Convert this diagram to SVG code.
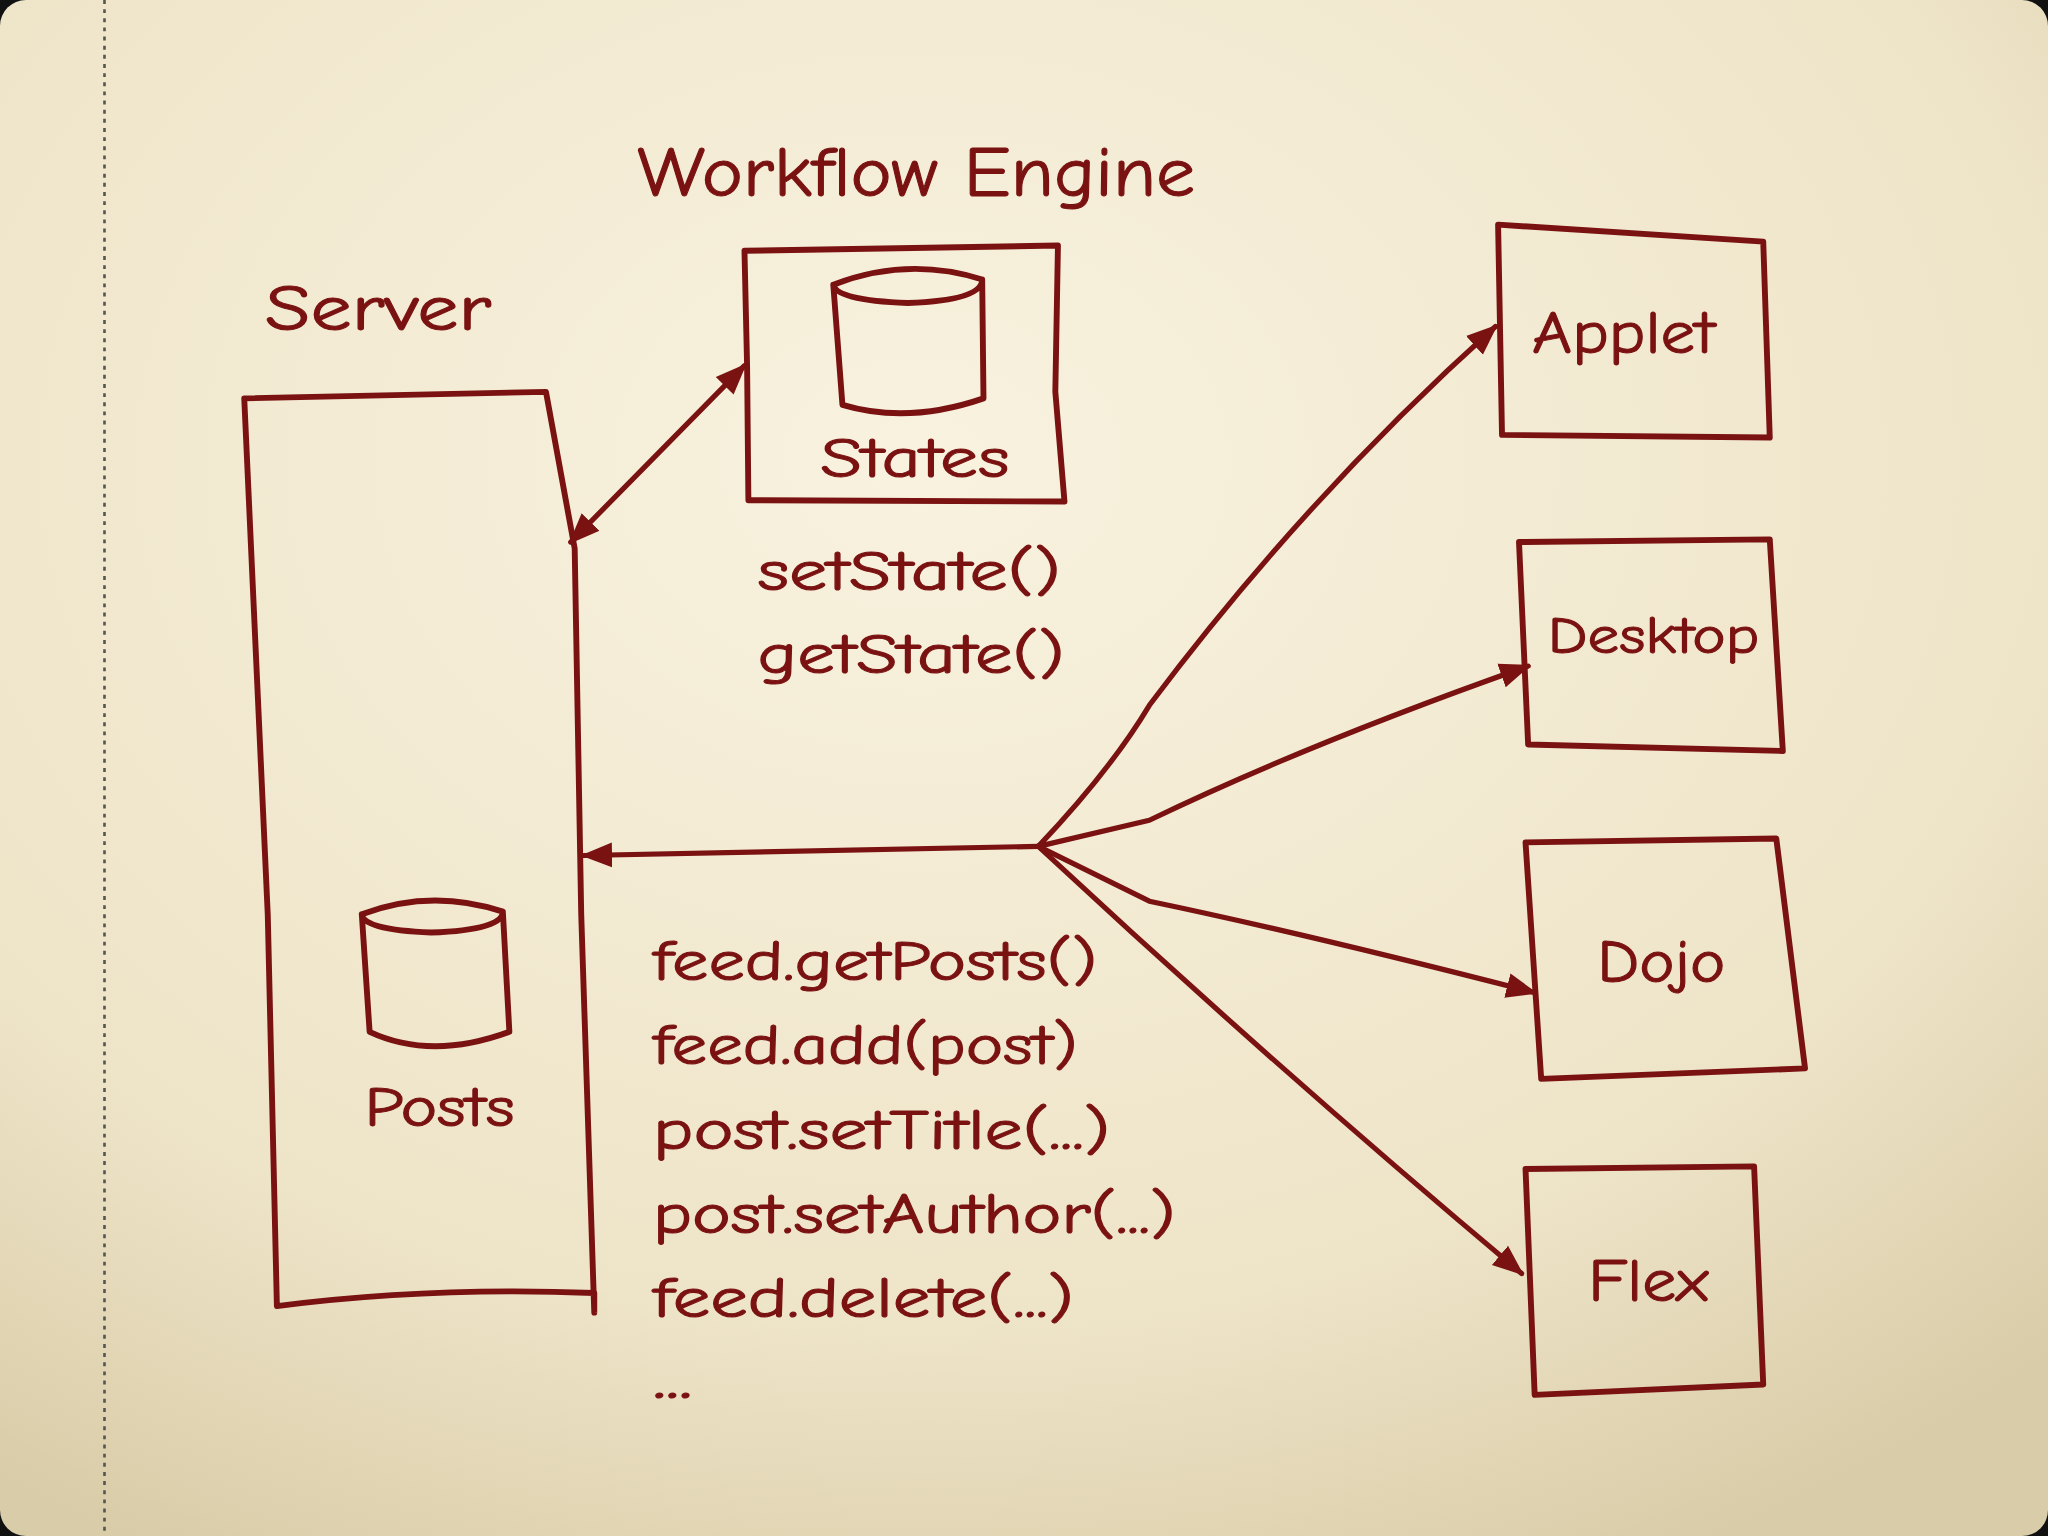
<svg xmlns="http://www.w3.org/2000/svg" width="2048" height="1536" viewBox="0 0 2048 1536">
<defs>
<radialGradient id="bg" cx="0.45" cy="0.3" r="0.8">
<stop offset="0" stop-color="#f8f2df"/><stop offset="0.7" stop-color="#eee4c8"/><stop offset="1" stop-color="#d9cca8"/>
</radialGradient>
<marker id="ah" viewBox="0 0 10 10" refX="9" refY="5" markerWidth="6" markerHeight="6" orient="auto-start-reverse"><path d="M0,1 L10,5 L0,9 z" fill="#7a1212"/></marker>
</defs>
<style>
.s{fill:none;stroke:#7a1212;stroke-width:4.5;stroke-linejoin:round;stroke-linecap:round}
.c{stroke-width:4}
text{fill:#7a1212;stroke:#7a1212;stroke-width:0.8;font-family:"Comic Neue","Lato","DejaVu Sans",sans-serif}
</style>
<rect width="2048" height="1536" fill="#111"/>
<rect x="0" y="0" width="2048" height="1536" rx="26" fill="url(#bg)"/>
<g transform="scale(1.3061)">
<line x1="80" y1="0" x2="80" y2="1176" stroke="#555" stroke-width="2" stroke-dasharray="3,4"/>
<g id="engine">
<text x="488" y="150" font-size="54" textLength="427" lengthAdjust="spacingAndGlyphs">Workflow Engine</text>
<path class="s" d="M570,192 L810,188 L808,300 L815,384 L573,383 L572,280 Z"/>
<path class="s" d="M638,218 Q695,196 752,214 Q752,230 695,232 Q640,230 638,218 M638,218 L645,310 Q695,325 753,305 L752,214"/>
<text x="628" y="365" font-size="44" textLength="145" lengthAdjust="spacingAndGlyphs">States</text>
<text x="580" y="452" font-size="44" textLength="232" lengthAdjust="spacingAndGlyphs">setState()</text>
<text x="580" y="515" font-size="44" textLength="235" lengthAdjust="spacingAndGlyphs">getState()</text>
</g>
<g id="server">
<text x="203" y="253" font-size="50" textLength="173" lengthAdjust="spacingAndGlyphs">Server</text>
<path class="s" d="M187,305 L418,300 L440,420 L445,700 L455,1005 L455,990 Q330,985 212,1000 L205,700 Z"/>
<path class="s" d="M277,700 Q330,680 385,698 Q385,712 330,714 Q278,712 277,700 M277,700 L283,790 Q330,812 390,790 L385,698"/>
<text x="279" y="862" font-size="44" textLength="115" lengthAdjust="spacingAndGlyphs">Posts</text>
</g>
<g id="applet"><path class="s" d="M1147,172 L1350,185 L1355,335 L1150,333 Z"/><text x="1173" y="270" font-size="46" textLength="140" lengthAdjust="spacingAndGlyphs">Applet</text></g>
<g id="desktop"><path class="s" d="M1163,415 L1355,413 L1365,575 L1170,570 Z"/><text x="1185" y="500" font-size="40" textLength="162" lengthAdjust="spacingAndGlyphs">Desktop</text></g>
<g id="dojo"><path class="s" d="M1168,645 L1360,642 L1382,818 L1180,826 Z"/><text x="1223" y="752" font-size="46" textLength="98" lengthAdjust="spacingAndGlyphs">Dojo</text></g>
<g id="flex"><path class="s" d="M1168,895 L1343,893 L1350,1060 L1175,1068 Z"/><text x="1216" y="996" font-size="46" textLength="92" lengthAdjust="spacingAndGlyphs">Flex</text></g>
<g id="calls">
<text x="500" y="750" font-size="44" textLength="340" lengthAdjust="spacingAndGlyphs">feed.getPosts()</text>
<text x="500" y="815" font-size="44" textLength="325" lengthAdjust="spacingAndGlyphs">feed.add(post)</text>
<text x="500" y="880" font-size="44" textLength="350" lengthAdjust="spacingAndGlyphs">post.setTitle(...)</text>
<text x="500" y="944" font-size="44" textLength="400" lengthAdjust="spacingAndGlyphs">post.setAuthor(...)</text>
<text x="500" y="1008" font-size="44" textLength="322" lengthAdjust="spacingAndGlyphs">feed.delete(...)</text>
<text x="500" y="1070" font-size="44" textLength="30" lengthAdjust="spacingAndGlyphs">...</text>
</g>
<g id="connectors">
<path class="s c" d="M570,280 L437,415" marker-start="url(#ah)" marker-end="url(#ah)"/>
<path class="s c" d="M795,648 L447,655" marker-end="url(#ah)"/>
<path class="s c" d="M795,648 Q850,590 880,540 Q1000,380 1145,250" marker-end="url(#ah)"/>
<path class="s c" d="M795,648 L880,628 Q1000,570 1170,510" marker-end="url(#ah)"/>
<path class="s c" d="M795,648 L880,690 Q1000,715 1175,760" marker-end="url(#ah)"/>
<path class="s c" d="M795,648 Q980,820 1165,975" marker-end="url(#ah)"/>
</g>
</g>
</svg>
